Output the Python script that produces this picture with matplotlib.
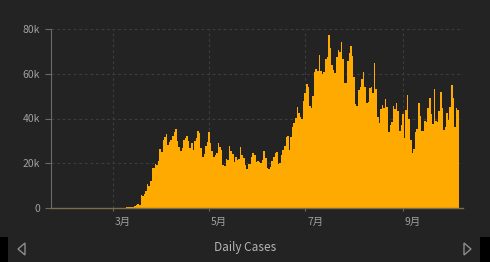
import matplotlib
matplotlib.use("Agg")
import matplotlib.pyplot as plt
import matplotlib.dates as mdates
import matplotlib.transforms as mtransforms
from matplotlib.patches import Rectangle, Polygon
import numpy as np
import pandas as pd


# ------------------------------------------------------------
# Data: daily new cases, 2020-01-22 .. 2020-10-06
# ------------------------------------------------------------
jan = [1, 0, 1, 0, 3, 0, 0, 0, 1, 1]
feb = [1, 0, 0, 0, 3, 0, 0, 0, 0, 0, 0, 1, 0, 0, 0, 0, 0, 0, 0, 0,
       3, 0, 0, 0, 1, 0, 3, 1, 7]
mar = [8, 23, 20, 31, 68, 45, 140, 116, 65, 376, 322, 382, 516, 548, 772,
       1133, 1789, 1362, 5894, 5423, 6389, 7787, 10571, 9893, 12042,
       18058, 17821, 19821, 19408, 20921, 26365]
apr = [25200, 30390, 31824, 33267, 28219, 29595, 30551, 32100, 33900, 35098,
       30000, 27400, 25300, 26600, 30200, 31300, 32100, 30000, 26800, 29000,
       26000, 29900, 31100, 34500, 33400, 26900, 22900, 24300, 27500, 29500]
may = [33900, 29200, 25500, 22800, 23500, 24800, 28900, 27400, 25700, 19400,
       18600, 21900, 21500, 27600, 25500, 24300, 20600, 22600, 21400, 21700,
       27300, 23900, 22300, 19100, 17400, 19600, 19800, 22800, 24500, 23800,
       20400]
jun = [21000, 20600, 20200, 21400, 25400, 22300, 18100, 17600, 18500, 20800,
       22800, 24800, 25000, 19600, 19900, 23700, 25700, 27700, 31900, 32200,
       25700, 31700, 36000, 37800, 40400, 45300, 42600, 40800, 39700, 47800]
jul = [51500, 55200, 54000, 45500, 44500, 49900, 60600, 61900, 61400, 68200,
       61300, 59900, 60800, 66400, 67500, 77300, 71600, 64000, 61600, 60300,
       67500, 70600, 69500, 74300, 66500, 55800, 55900, 65500, 69400, 72400,
       68000]
aug = [58400, 46600, 45800, 52600, 54000, 57600, 61000, 54000, 47000, 47500,
       53500, 54200, 51500, 65000, 53000, 40500, 38200, 44400, 46000, 44500,
       48600, 45000, 33800, 36900, 38300, 45600, 44300, 46900, 43400, 34600,
       37200]
sep = [42000, 31500, 44000, 50500, 40000, 30500, 24600, 26500, 34000, 35500,
       47000, 41000, 34500, 34500, 39000, 38500, 44500, 49000, 42000, 37500,
       53000, 39000, 38500, 43500, 52000, 44500, 35000, 36000, 42500, 39500]
oct_ = [45000, 55000, 49000, 36000, 44500, 44000]

cases = jan + feb + mar + apr + may + jun + jul + aug + sep + oct_
dates = pd.date_range("2020-01-22", periods=len(cases), freq="D")

tick_dates = ["2020-03-01", "2020-05-01", "2020-07-01", "2020-09-01"]
tick_labels = ["3月", "5月", "7月", "9月"]
y_ticks = [0, 20000, 40000, 60000, 80000]
y_labels = ["0", "20k", "40k", "60k", "80k"]
title = "Daily Cases"


# ------------------------------------------------------------
# Style
# ------------------------------------------------------------
plt.rcParams["font.family"] = ["Noto Sans CJK JP", "DejaVu Sans"]

BG = "#232323"
BAR = "#ffaa00"
TEXT = "#a0a0a0"
AXIS = "#6b6b6b"
GRID = "#3d3d3d"

W, H = 490, 262
fig = plt.figure(figsize=(W / 100, H / 100), dpi=100, facecolor=BG)
ax = fig.add_axes([51 / W, 1 - 208 / H, (463 - 51) / W, (208 - 29) / H])
ax.set_facecolor(BG)


# ------------------------------------------------------------
# Bars (one filled step outline per day, no seams between days)
# ------------------------------------------------------------
x = mdates.date2num(dates)
edges = np.append(x - 0.5, x[-1] + 0.5)
ax.stairs(cases, edges, fill=True, color=BAR, linewidth=0, zorder=3)

ax.set_xlim(mdates.date2num(pd.Timestamp("2020-01-21 17:00")),
            mdates.date2num(pd.Timestamp("2020-10-09 02:00")))
ax.set_ylim(0, 80000)


# ------------------------------------------------------------
# Axes
# ------------------------------------------------------------
ax.set_xticks(mdates.date2num(pd.to_datetime(tick_dates)))
ax.set_xticklabels(tick_labels)
ax.set_yticks(y_ticks)
ax.set_yticklabels(y_labels)

ax.tick_params(axis="x", length=2.5, width=0.8, color=AXIS, pad=4,
               labelsize=7.5, labelcolor=TEXT)
ax.tick_params(axis="y", length=4.3, width=0.8, color=AXIS, pad=3.5,
               labelsize=7.5, labelcolor=TEXT)

offset = mtransforms.ScaledTranslation(2 / 100, 0, fig.dpi_scale_trans)
for lbl in ax.get_xticklabels():
    lbl.set_ha("left")
    lbl.set_transform(lbl.get_transform() + offset)

ax.grid(True, color=GRID, linestyle=(0, (2.5, 2.5)), linewidth=0.8)
ax.set_axisbelow(True)

for side in ["top", "right"]:
    ax.spines[side].set_visible(False)
ax.spines["left"].set_color(AXIS)
ax.spines["left"].set_linewidth(0.8)
ax.spines["bottom"].set_color("#7d6c4a")
ax.spines["bottom"].set_linewidth(1.0)
ax.spines["bottom"].set_zorder(4)


# ------------------------------------------------------------
# Bottom strip
# ------------------------------------------------------------
fig.text(245 / W, 1 - 248 / H, title, ha="center", va="center",
         fontsize=8.5, color="#b4b4b4")

fig.add_artist(Rectangle((0, 0), 8 / W, 25 / H, transform=fig.transFigure,
                         facecolor="black", edgecolor="none"))
fig.add_artist(Rectangle((480 / W, 0), 10 / W, 25 / H, transform=fig.transFigure,
                         facecolor="black", edgecolor="none"))

left_tri = [(25 / W, 1 - 243 / H), (25 / W, 1 - 255 / H), (18 / W, 1 - 249 / H)]
right_tri = [(464 / W, 1 - 243 / H), (464 / W, 1 - 255 / H), (471 / W, 1 - 249 / H)]
for tri in (left_tri, right_tri):
    fig.add_artist(Polygon(tri, closed=True, transform=fig.transFigure,
                           facecolor="none", edgecolor="#8c8c8c", linewidth=1.0))

fig.savefig("out.png", dpi=100, facecolor=BG)
